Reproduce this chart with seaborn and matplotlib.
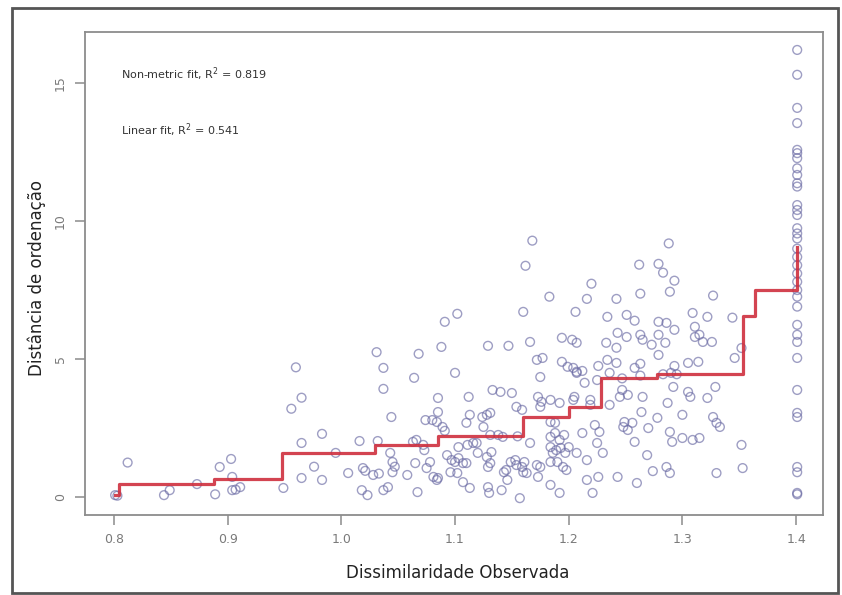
import matplotlib
matplotlib.use("Agg")
import matplotlib.pyplot as plt
import seaborn as sns
import pandas as pd
from matplotlib.patches import Rectangle

# ---- data (Shepard / stress plot) ----
obs_x = [
    0.801, 0.803, 0.812, 0.844, 0.849, 0.873, 0.889, 0.893, 0.903, 0.904, 0.904, 0.907, 0.911,
    0.949, 0.956, 0.960, 0.965, 0.965, 0.965, 0.976, 0.983, 0.983, 0.995,
    1.006, 1.016, 1.018, 1.019, 1.021, 1.023, 1.028, 1.031, 1.032, 1.033, 1.037, 1.037, 1.037,
    1.041, 1.043, 1.044, 1.045, 1.047, 1.045, 1.058, 1.063, 1.064, 1.065, 1.066, 1.067, 1.068,
    1.072, 1.073, 1.074, 1.075, 1.078, 1.080, 1.081, 1.084, 1.084, 1.085, 1.085, 1.085, 1.088,
    1.089, 1.091, 1.091, 1.093, 1.096, 1.097, 1.100, 1.100, 1.102, 1.102, 1.103, 1.103, 1.107,
    1.107, 1.110, 1.110, 1.111, 1.112, 1.113, 1.113, 1.116, 1.119, 1.120, 1.124, 1.125, 1.128,
    1.128, 1.129, 1.129, 1.129, 1.130, 1.131, 1.131, 1.131, 1.132, 1.133, 1.138, 1.140, 1.141,
    1.142, 1.143, 1.145, 1.146, 1.147, 1.149, 1.150, 1.153, 1.154, 1.154, 1.155, 1.157, 1.159,
    1.159, 1.160, 1.160, 1.161, 1.162, 1.163, 1.166, 1.166, 1.168, 1.172, 1.172, 1.173, 1.173,
    1.175, 1.175, 1.175, 1.176, 1.177, 1.183, 1.184, 1.184, 1.184, 1.184, 1.184, 1.184, 1.186,
    1.188, 1.188, 1.189, 1.190, 1.192, 1.192, 1.192, 1.193, 1.194, 1.194, 1.195, 1.196, 1.197,
    1.198, 1.199, 1.200, 1.203, 1.204, 1.204, 1.206, 1.207, 1.207,
    1.207, 1.207, 1.205, 1.212, 1.212, 1.214, 1.216, 1.216, 1.216, 1.219, 1.219, 1.220, 1.221,
    1.223, 1.225, 1.225, 1.226, 1.226, 1.227, 1.230, 1.233, 1.234, 1.234, 1.236, 1.236, 1.242,
    1.242, 1.242, 1.243, 1.243, 1.245, 1.247, 1.248, 1.249, 1.251, 1.251, 1.252, 1.252, 1.256,
    1.258, 1.258, 1.258, 1.260, 1.262, 1.263, 1.263, 1.263, 1.264, 1.265, 1.265, 1.269, 1.270,
    1.273, 1.274, 1.278, 1.279, 1.279, 1.279, 1.279, 1.283, 1.285, 1.286, 1.286, 1.287, 1.288,
    1.289, 1.289, 1.289, 1.291, 1.292, 1.293, 1.293, 1.293, 1.300, 1.300, 1.305, 1.305, 1.307,
    1.309, 1.309, 1.311, 1.311, 1.314, 1.315, 1.315, 1.318, 1.322, 1.322, 1.326, 1.327, 1.327,
    1.329, 1.330, 1.330, 1.333, 1.344, 1.346, 1.352, 1.352, 1.353,
    1.247, 1.263, 1.283, 1.290, 1.295,
]
ord_y = [
    0.07, 0.05, 1.25, 0.07, 0.25, 0.47, 0.10, 1.09, 1.38, 0.73, 0.25, 0.27, 0.36,
    0.33, 3.20, 4.70, 3.60, 1.96, 0.69, 1.10, 2.29, 0.62, 1.60,
    0.87, 2.03, 0.25, 1.05, 0.95, 0.07, 0.80, 5.25, 2.03, 0.85, 4.68, 3.92, 0.25,
    0.36, 1.60, 2.90, 1.27, 1.10, 0.90, 0.80, 2.00, 4.32, 1.23, 2.07, 0.18, 5.19,
    1.89, 1.70, 2.79, 1.05, 1.27, 2.79, 0.73, 2.72, 0.62, 0.69, 3.59, 3.08, 5.44,
    2.54, 2.40, 6.35, 1.52, 0.90, 1.34, 1.27, 4.50, 6.64, 0.87, 1.41, 1.81, 1.23,
    0.54, 1.23, 2.69, 1.89, 3.63, 2.98, 0.33, 1.96, 1.96, 1.60, 2.90, 2.54, 2.98,
    1.45, 1.09, 0.36, 5.48, 0.15, 3.05, 1.23, 2.25, 1.63, 3.88, 2.25, 3.81, 0.25,
    2.18, 0.90, 0.98, 0.62, 5.48, 1.27, 3.77, 1.34, 1.16, 3.27, 2.20, -0.04, 1.09,
    3.16, 0.90, 6.71, 1.27, 8.38, 0.87, 1.96, 5.62, 9.29, 4.97, 1.16, 3.63, 0.73,
    4.35, 3.27, 1.09, 3.45, 5.04, 7.26, 3.52, 2.72, 2.18, 1.81, 1.27, 0.44, 1.60,
    2.69, 2.32, 1.70, 1.27, 3.41, 2.07, 0.15, 1.78, 4.90, 5.77, 1.09, 2.25, 1.60,
    0.98, 4.72, 1.81, 5.70, 4.68, 3.52, 6.71, 4.54, 5.59,
    4.50, 1.60, 3.63, 4.57, 2.32, 4.14, 7.18, 1.34, 0.62, 3.52, 3.34, 7.73, 0.15,
    2.61, 4.24, 1.96, 4.75, 0.73, 2.36, 1.60, 5.59, 6.53, 4.97, 4.50, 3.34, 7.18,
    5.41, 4.86, 5.95, 0.73, 3.63, 3.88, 2.54, 2.72, 6.60, 5.80, 3.70, 2.43, 2.69,
    6.39, 4.68, 2.00, 0.51, 8.42, 7.37, 5.88, 4.83, 3.08, 5.70, 3.63, 1.52, 2.50,
    5.52, 0.94, 2.87, 8.45, 6.35, 5.88, 5.15, 8.13, 5.59, 6.31, 1.09, 3.41, 9.19,
    7.44, 2.36, 0.87, 2.00, 3.99, 7.84, 6.06, 4.75, 2.98, 2.14, 4.86, 3.81, 3.63,
    6.67, 2.07, 6.17, 5.80, 4.90, 5.88, 2.14, 5.62, 6.53, 3.59, 5.62, 7.30, 2.90,
    3.99, 2.69, 0.87, 2.54, 6.50, 5.04, 5.40, 1.89, 1.05,
    4.30, 4.40, 4.45, 4.50, 4.45,
]
# points tied at the largest observed dissimilarity
tie_x = 1.401
tie_y = [16.2, 15.3, 14.1, 13.55, 12.58, 12.46, 12.28, 11.91, 11.67, 11.37, 11.25,
         10.58, 10.40, 10.22, 9.74, 9.55, 9.37, 9.0, 8.7, 8.4, 8.1, 7.8, 7.5, 7.26,
         6.9, 6.24, 5.88, 5.62, 5.04, 3.88, 3.05, 2.9, 1.09, 0.9, 0.15, 0.10]

# monotone (non-metric) fit, step breakpoints
step_x = [0.801, 0.804, 0.888, 0.948, 1.030, 1.085, 1.160, 1.200, 1.228, 1.278,
          1.353, 1.364, 1.401, 1.401]
step_y = [0.07, 0.47, 0.65, 1.60, 1.90, 2.20, 2.90, 3.27, 4.33, 4.46,
          6.57, 7.50, 7.50, 9.05]

x_ticks = [0.8, 0.9, 1.0, 1.1, 1.2, 1.3, 1.4]
x_tick_labels = ["0.8", "0.9", "1.0", "1.1", "1.2", "1.3", "1.4"]
y_ticks = [0, 5, 10, 15]
y_tick_labels = ["0", "5", "10", "15"]

label_x = "Dissimilaridade Observada"
label_y = "Distância de ordenação"
fit_texts = [r"Non-metric fit, R$^2$ = 0.819", r"Linear fit, R$^2$ = 0.541"]

# ---- build ----
pts = pd.DataFrame({
    "x": obs_x + [tie_x] * len(tie_y),
    "y": ord_y + tie_y,
})
steps = pd.DataFrame({"x": step_x, "y": step_y})

W, H = 842, 595
fig = plt.figure(figsize=(W / 100, H / 100), dpi=100)
fig.patch.set_facecolor("white")
L, R, T, B = 85, 823, 32, 515
ax = fig.add_axes([L / W, 1 - B / H, (R - L) / W, (B - T) / H])

sns.scatterplot(data=pts, x="x", y="y", ax=ax, marker="o", s=40,
                facecolors="none", edgecolor="#6a6aa4", linewidth=1.0,
                alpha=0.65, legend=False)
sns.lineplot(data=steps, x="x", y="y", ax=ax, estimator=None, sort=False,
             drawstyle="steps-post", color="#cf2f3e", linewidth=2.3, alpha=0.9)

ax.set_xlim(0.7745, 1.4237)
ax.set_ylim(-0.65, 16.85)
ax.set_xticks(x_ticks)
ax.set_xticklabels(x_tick_labels)
ax.set_yticks(y_ticks)
ax.set_yticklabels(y_tick_labels, rotation=90, va="center")
ax.set_xlabel("")
ax.set_ylabel("")
for s in ax.spines.values():
    s.set_color("#8c8c8c")
    s.set_linewidth(1.3)
ax.tick_params(direction="out", length=7, width=1.1, color="#8c8c8c",
               labelcolor="#7a7a7a", labelsize=9, pad=6)
ax.grid(False)

fig.text(458 / W, 1 - 573 / H, label_x, ha="center", va="center",
         fontsize=12, color="#222222")
fig.text(37 / W, 1 - 278 / H, label_y, ha="center", va="center",
         rotation=90, fontsize=12, color="#222222")
fig.text(121 / W, 1 - 74 / H, fit_texts[0], ha="left", va="center",
         fontsize=8, color="#333333")
fig.text(121 / W, 1 - 130 / H, fit_texts[1], ha="left", va="center",
         fontsize=8, color="#333333")

fig.patches.append(Rectangle((12 / W, 2 / H), 826 / W, 1 - 10 / H,
                             transform=fig.transFigure, fill=False,
                             edgecolor="#555555", linewidth=2))

fig.savefig("out.png", dpi=100)
